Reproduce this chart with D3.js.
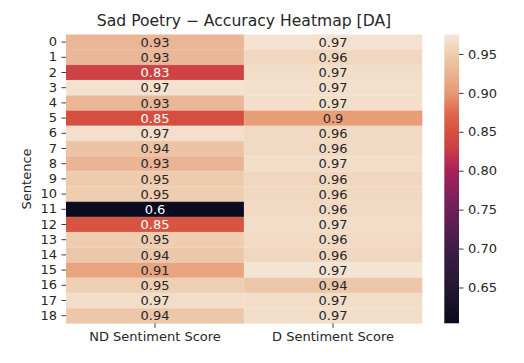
<!DOCTYPE html>
<html><head><meta charset="utf-8">
<script src="https://cdn.jsdelivr.net/npm/d3@7"></script>
<style>body{margin:0;background:#fff;} svg{display:block;font-family:"DejaVu Sans",sans-serif;}</style>
</head><body>
<svg id="c" width="524" height="363"></svg>
<script>
const sentences = d3.range(19).map(String);
const columns = ["ND Sentiment Score", "D Sentiment Score"];
const ndValues = [0.928,0.930,0.834,0.970,0.929,0.848,0.968,0.940,0.927,0.948,0.950,0.604,0.854,0.950,0.944,0.910,0.952,0.966,0.944];
const dValues  = [0.970,0.960,0.966,0.968,0.967,0.904,0.962,0.962,0.966,0.960,0.961,0.962,0.966,0.963,0.960,0.973,0.944,0.966,0.966];
const colorTicks = [0.65,0.70,0.75,0.80,0.85,0.90,0.95];
const vmin = 0.604, vmax = 0.975;

// rocket-like colormap (position in [0,1] -> colour)
const cmapPos = [0, 0.124, 0.259, 0.394, 0.528, 0.609, 0.663, 0.73, 0.798, 0.86, 0.933, 1];
const cmapCol = ["#0a0b1e","#24172f","#3e1d47","#6c2059","#a6225a","#cc3f45","#d6503f","#de6a4e","#e89a72","#e9b190","#eecdb0","#f5e6d7"];
const rocket = d3.scaleLinear().domain(cmapPos).range(cmapCol).interpolate(d3.interpolateRgb).clamp(true);
const color = v => rocket((v-vmin)/(vmax-vmin));

const svg = d3.select("#c");
const L=66, R=422, T=34.5, B=323.3;
const x = d3.scaleBand().domain(columns).range([L,R]);
const y = d3.scaleBand().domain(sentences).range([T,B]);

const cells = [];
sentences.forEach((s,i)=>{ cells.push({s,c:columns[0],v:ndValues[i]}); cells.push({s,c:columns[1],v:dValues[i]}); });

svg.append("g").selectAll("rect").data(cells).join("rect")
  .attr("x",d=>x(d.c)).attr("y",d=>y(d.s)).attr("width",x.bandwidth()+0.3).attr("height",y.bandwidth()+0.3)
  .attr("fill",d=>color(d.v));
svg.append("g").selectAll("line").data(sentences.slice(1)).join("line")
  .attr("x1",L).attr("x2",R).attr("y1",d=>y(d)).attr("y2",d=>y(d))
  .attr("stroke","#fff").attr("stroke-opacity",0.18).attr("stroke-width",0.8);
svg.append("line").attr("x1",x(columns[1])).attr("x2",x(columns[1])).attr("y1",T).attr("y2",B)
  .attr("stroke","#fff").attr("stroke-opacity",0.18).attr("stroke-width",0.8);

const fmt = d3.format(".2");
function lum(c){ const r=d3.rgb(c); const f=v=>{v/=255; return v<=0.03928? v/12.92: Math.pow((v+0.055)/1.055,2.4);}; return 0.2126*f(r.r)+0.7152*f(r.g)+0.0722*f(r.b); }
svg.append("g").selectAll("text").data(cells).join("text")
  .attr("x",d=>x(d.c)+x.bandwidth()/2).attr("y",d=>y(d.s)+y.bandwidth()/2)
  .attr("dy","0.36em").attr("text-anchor","middle").attr("font-size",13)
  .attr("fill",d=>lum(color(d.v))>0.408?"#262626":"#fff")
  .text(d=>fmt(d.v));

const yAxis = svg.append("g").attr("transform",`translate(${L},0)`).call(d3.axisLeft(y).tickSize(4.5).tickPadding(4.5));
const xAxis = svg.append("g").attr("transform",`translate(0,${B})`).call(d3.axisBottom(x).tickSize(4.5).tickPadding(4));
[yAxis,xAxis].forEach(a=>{ a.select(".domain").remove(); a.selectAll("text").attr("font-size",13).attr("fill","#262626").attr("font-family","DejaVu Sans"); a.selectAll("line").attr("stroke","#262626").attr("stroke-width",0.9); });

svg.append("text").attr("transform",`translate(31,${(T+B)/2}) rotate(-90)`).attr("text-anchor","middle")
  .attr("font-size",13).attr("fill","#262626").text("Sentence");
svg.append("text").attr("x",(L+R)/2).attr("y",26).attr("text-anchor","middle").attr("font-size",15.6).attr("fill","#262626")
  .text("Sad Poetry \u2212 Accuracy Heatmap [DA]");

// colorbar
const cbL=444.3, cbW=14.7;
const cy = d3.scaleLinear().domain([vmin,vmax]).range([B,T]);
const defs = svg.append("defs");
const grad = defs.append("linearGradient").attr("id","g").attr("x1",0).attr("x2",0).attr("y1",1).attr("y2",0);
d3.range(0,1.0001,0.01).forEach(t=>grad.append("stop").attr("offset",t).attr("stop-color",rocket(t)));
svg.append("rect").attr("x",cbL).attr("y",T).attr("width",cbW).attr("height",B-T).attr("fill","url(#g)");
const cAxis = svg.append("g").attr("transform",`translate(${cbL+cbW},0)`).call(d3.axisRight(cy).tickValues(colorTicks).tickFormat(d3.format(".2f")).tickSize(4.5).tickPadding(4.5));
cAxis.select(".domain").remove();
cAxis.selectAll("text").attr("font-size",13).attr("fill","#262626").attr("font-family","DejaVu Sans");
cAxis.selectAll("line").attr("stroke","#262626").attr("stroke-width",0.9);
</script>
</body></html>
